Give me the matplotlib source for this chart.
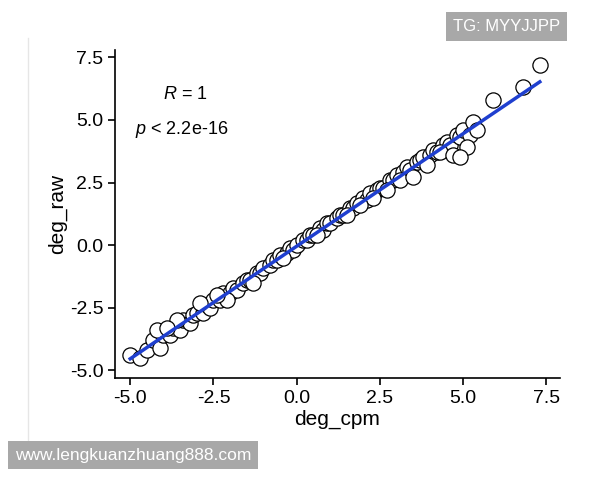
import matplotlib
matplotlib.use("Agg")
import matplotlib.pyplot as plt
import numpy as np
plt.rcParams['font.family'] = ['Liberation Sans', 'DejaVu Sans']
plt.rcParams['mathtext.fontset'] = 'custom'
plt.rcParams['mathtext.it'] = 'Liberation Sans:italic'

deg_cpm = [-5.0,-4.7,-4.5,-4.3,-4.1,-4.0,-3.8,-3.7,-3.5,-3.4,-3.2,-3.1,-3.0,-2.8,-2.7,-2.6,-2.5,-2.3,-2.2,-2.0,-1.9,-1.8,-1.6,-1.5,-1.4,-1.2,-1.1,-1.0,-0.8,-0.7,-0.6,-0.5,-0.3,-0.2,-0.1,0.0,0.2,0.3,0.4,0.5,0.7,0.8,0.9,1.0,1.2,1.3,1.4,1.6,1.7,1.8,2.0,2.1,2.2,2.4,2.5,2.6,2.8,2.9,3.0,3.2,3.3,3.4,3.6,3.7,3.8,4.0,4.1,4.2,4.4,4.5,4.6,4.8,4.9,5.0,5.2,5.3,5.4,5.9,6.8,7.3,-4.2,-3.6,-2.9,-2.1,-1.3,-0.4,0.6,1.5,2.3,3.1,3.9,4.3,4.7,5.1,4.9,3.5,2.7,1.9,-3.9,-2.4]
deg_raw = [-4.4,-4.5,-4.2,-3.8,-4.1,-3.6,-3.6,-3.3,-3.4,-3.0,-3.1,-2.8,-2.7,-2.7,-2.4,-2.5,-2.2,-2.2,-1.9,-1.9,-1.7,-1.8,-1.5,-1.4,-1.4,-1.1,-1.1,-0.9,-0.8,-0.6,-0.6,-0.4,-0.3,-0.1,-0.2,0.0,0.2,0.2,0.4,0.4,0.7,0.6,0.9,0.9,1.1,1.2,1.2,1.5,1.5,1.7,1.9,1.8,2.1,2.2,2.3,2.3,2.6,2.6,2.8,2.9,3.1,3.0,3.3,3.4,3.5,3.6,3.8,3.7,4.0,4.1,4.0,4.4,4.3,4.6,4.4,4.9,4.6,5.8,6.3,7.2,-3.4,-3.0,-2.3,-2.2,-1.5,-0.5,0.4,1.2,1.9,2.6,3.2,3.7,3.6,3.9,3.5,2.7,2.2,1.6,-3.3,-2.0]

fig = plt.figure(figsize=(6, 4.8), dpi=100)
ax = fig.add_axes([0.192, 0.2125, 0.741, 0.684])
ax.scatter(deg_cpm, deg_raw, s=120, facecolor='white', edgecolor='black', linewidth=0.9, zorder=2)
k, b = np.polyfit(deg_cpm, deg_raw, 1)
xs = np.array([min(deg_cpm), max(deg_cpm)])
ax.plot(xs, k*xs+b, color='#1f3fcf', lw=2.5, zorder=3)
ax.set_xlim(-5.45, 7.9)
ax.set_ylim(-5.3, 7.8)
ticks = [-5.0, -2.5, 0.0, 2.5, 5.0, 7.5]
ax.set_xticks(ticks); ax.set_yticks(ticks)
ax.set_xticklabels([f"{t:.1f}" for t in ticks], fontsize=14)
ax.set_yticklabels([f"{t:.1f}" for t in ticks], fontsize=14)
ax.set_xlabel("deg_cpm", fontsize=15, labelpad=2)
ax.set_ylabel("deg_raw", fontsize=15, labelpad=2)
for s in ['top', 'right']:
    ax.spines[s].set_visible(False)
ax.spines['left'].set_linewidth(1.2); ax.spines['bottom'].set_linewidth(1.2)
ax.tick_params(width=1.2, length=5)
ax.text(-3.35, 6.0, r"$R$ = 1", fontsize=13, ha='center', va='center')
ax.text(-4.85, 4.6, r"$p$ < 2.2e-16", fontsize=13, ha='left', va='center')
fig.add_artist(plt.Line2D([0.047, 0.047], [0.08, 0.92], color='#e6e6e6', lw=1))
fig.text(0.755, 0.945, "TG: MYYJJPP", fontsize=12, color='white', va='center',
         bbox=dict(facecolor='#a8a8a8', edgecolor='none', pad=5))
fig.text(0.025, 0.052, "www.lengkuanzhuang888.com", fontsize=12.5, color='white', va='center',
         bbox=dict(facecolor='#a8a8a8', edgecolor='none', pad=5))
fig.savefig("out.png", dpi=100)
